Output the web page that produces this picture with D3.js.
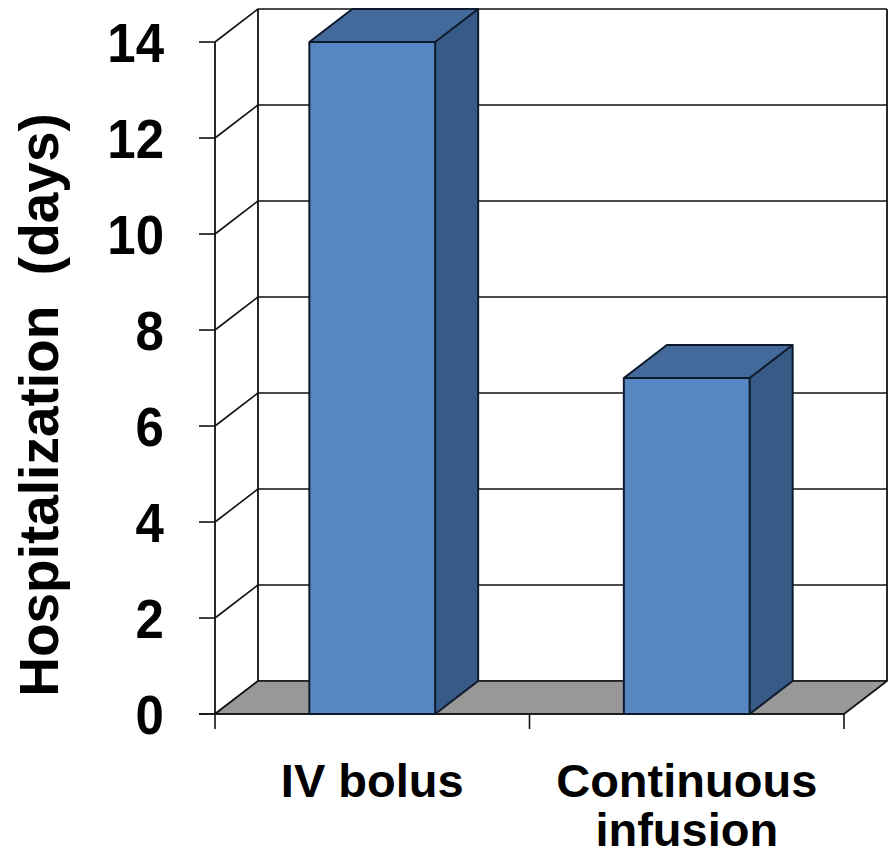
<!DOCTYPE html>
<html>
<head>
<meta charset="utf-8">
<script src="https://cdn.jsdelivr.net/npm/d3@7"></script>
<style>
  html, body { margin: 0; padding: 0; background: #fff; }
  svg { display: block; }
  text { font-family: "Liberation Sans", Arial, sans-serif; font-weight: bold; fill: #000; }
</style>
</head>
<body>
<svg id="chart" width="888" height="858"></svg>
<script>
// Hospital stay by diuretic regimen
const categories = ["IV bolus", "Continuous infusion"];
const categoryLines = [["IV bolus"], ["Continuous", "infusion"]];
const values = [14, 7];
const yTicks = [0, 2, 4, 6, 8, 10, 12, 14];
const yLabel = "Hospitalization  (days)";

const svg = d3.select("#chart");

// front plane and 3D depth offset
const x0 = 215, x1 = 844;
const y0 = 714, y1 = 42;
const depth = { dx: 43, dy: -33 };

const x = d3.scaleBand().domain(categories).range([x0, x1]).padding(0);
const y = d3.scaleLinear().domain([0, 14]).range([y0, y1]);
const barW = x.bandwidth() * 0.4;

const lineColor = "#111";
const edgeColor = "#0d1a2c";
const colors = { front: "#5687c2", top: "#44699b", side: "#385a86", floor: "#989898" };

const pts = p => p.map(d => d.join(",")).join(" ");

// back wall gridlines and edges
const back = svg.append("g");
back.selectAll("line.grid").data(yTicks).join("line")
  .attr("class", "grid")
  .attr("x1", x0 + depth.dx).attr("x2", x1 + depth.dx)
  .attr("y1", d => y(d) + depth.dy).attr("y2", d => y(d) + depth.dy)
  .attr("stroke", lineColor).attr("stroke-width", 1.6);
[x0 + depth.dx, x1 + depth.dx].forEach(xx => {
  back.append("line")
    .attr("x1", xx).attr("x2", xx)
    .attr("y1", y(0) + depth.dy).attr("y2", y(14) + depth.dy)
    .attr("stroke", lineColor).attr("stroke-width", 1.8);
});

// left side wall: diagonals from the axis back to the wall
back.selectAll("line.diag").data(yTicks).join("line")
  .attr("class", "diag")
  .attr("x1", x0).attr("x2", x0 + depth.dx)
  .attr("y1", d => y(d)).attr("y2", d => y(d) + depth.dy)
  .attr("stroke", lineColor).attr("stroke-width", 1.6);

// floor
svg.append("polygon")
  .attr("points", pts([[x0, y(0)], [x1, y(0)], [x1 + depth.dx, y(0) + depth.dy], [x0 + depth.dx, y(0) + depth.dy]]))
  .attr("fill", colors.floor).attr("stroke", lineColor).attr("stroke-width", 1.6)
  .attr("stroke-linejoin", "round");

// value axis line and ticks
const axis = svg.append("g");
axis.append("line")
  .attr("x1", x0).attr("x2", x0).attr("y1", y(0)).attr("y2", y(14))
  .attr("stroke", lineColor).attr("stroke-width", 1.8);
axis.selectAll("line.ytick").data(yTicks).join("line")
  .attr("class", "ytick")
  .attr("x1", x0 - 16).attr("x2", x0)
  .attr("y1", d => y(d)).attr("y2", d => y(d))
  .attr("stroke", lineColor).attr("stroke-width", 1.6);
axis.append("line")
  .attr("x1", x0 - 16).attr("x2", x1).attr("y1", y(0)).attr("y2", y(0))
  .attr("stroke", lineColor).attr("stroke-width", 1.6);
const xTickPos = [x0].concat(categories.map(c => x(c) + x.bandwidth()));
axis.selectAll("line.xtick").data(xTickPos).join("line")
  .attr("class", "xtick")
  .attr("x1", d => d).attr("x2", d => d)
  .attr("y1", y(0)).attr("y2", y(0) + 15)
  .attr("stroke", lineColor).attr("stroke-width", 1.6);

// tick labels
axis.selectAll("g.ylab").data(yTicks).join("g")
  .attr("class", "ylab")
  .attr("transform", d => `translate(164,${y(d) + 20}) scale(1,1.1)`)
  .append("text")
  .attr("text-anchor", "end")
  .attr("font-size", 51)
  .text(d => d);

// bars as 3D boxes
const bars = svg.append("g").selectAll("g.bar")
  .data(categories.map((c, i) => ({ c, v: values[i] })))
  .join("g").attr("class", "bar");

bars.each(function(d) {
  const g = d3.select(this);
  const bx = x(d.c) + (x.bandwidth() - barW) / 2;
  const top = y(d.v), bot = y(0);
  const { dx, dy } = depth;
  g.append("polygon")
    .attr("points", pts([[bx + barW, bot], [bx + barW + dx, bot + dy], [bx + barW + dx, top + dy], [bx + barW, top]]))
    .attr("fill", colors.side);
  g.append("polygon")
    .attr("points", pts([[bx, top], [bx + dx, top + dy], [bx + barW + dx, top + dy], [bx + barW, top]]))
    .attr("fill", colors.top);
  g.append("rect")
    .attr("x", bx).attr("y", top).attr("width", barW).attr("height", bot - top)
    .attr("fill", colors.front);
  // outlines
  g.append("path")
    .attr("d", `M${bx},${bot} L${bx},${top} L${bx + dx},${top + dy} L${bx + barW + dx},${top + dy} L${bx + barW + dx},${bot + dy} L${bx + barW},${bot} Z
                M${bx},${top} L${bx + barW},${top} L${bx + barW + dx},${top + dy}
                M${bx + barW},${top} L${bx + barW},${bot}`)
    .attr("fill", "none").attr("stroke", edgeColor).attr("stroke-width", 2)
    .attr("stroke-linejoin", "round");
});

// category labels
const catG = svg.append("g").selectAll("text.cat")
  .data(categories.map((c, i) => ({ c, lines: categoryLines[i] })))
  .join("text").attr("class", "cat")
  .attr("text-anchor", "middle")
  .attr("font-size", 47)
  .attr("x", d => x(d.c) + x.bandwidth() / 2)
  .attr("y", 797);
catG.selectAll("tspan").data(d => d.lines).join("tspan")
  .attr("x", function() { return d3.select(this.parentNode).attr("x"); })
  .attr("dy", (d, i) => i === 0 ? 0 : 49)
  .text(d => d);

// value axis title
svg.append("text")
  .attr("transform", "translate(58,405) rotate(-90)")
  .attr("text-anchor", "middle")
  .attr("font-size", 55)
  .style("white-space", "pre")
  .attr("xml:space", "preserve")
  .text(yLabel);
</script>
</body>
</html>
